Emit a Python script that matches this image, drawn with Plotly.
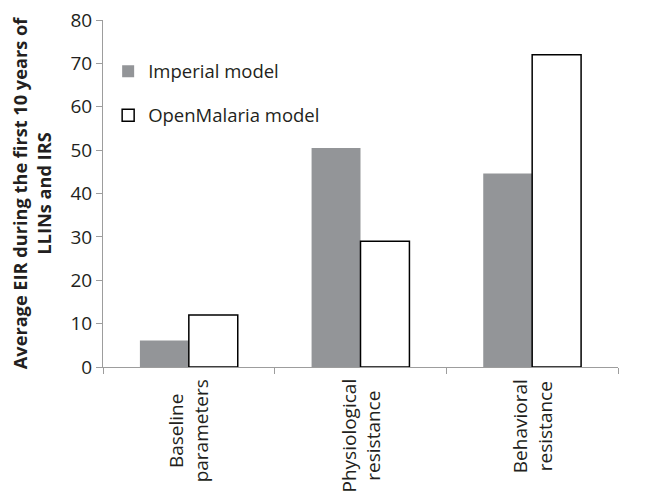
import plotly.graph_objects as go

categories = ["Baseline<br>parameters", "Physiological<br>resistance", "Behavioral<br>resistance"]
imperial = [6.1, 50.5, 44.6]
openmalaria = [12.0, 29.0, 72.0]
y_ticks = [0, 10, 20, 30, 40, 50, 60, 70, 80]

FONT = "Open Sans"
TXT = "#231f20"

fig = go.Figure()
fig.add_trace(go.Bar(
    x=categories, y=imperial, name="Imperial model",
    marker=dict(color="#939598", line=dict(width=0)),
    legendgroup="a",
))
fig.add_trace(go.Bar(
    x=categories, y=openmalaria, name="OpenMalaria model",
    marker=dict(color="white", line=dict(color="black", width=1.5)),
    legendgroup="b",
))

for c in categories:
    fig.add_annotation(
        x=c, xref="x", y=0, yref="paper", yanchor="top", xanchor="center",
        yshift=-10, text=c, textangle=-90, align="center", showarrow=False,
        font=dict(family=FONT, size=19, color=TXT),
    )

fig.update_layout(
    width=653, height=491,
    margin=dict(l=95, r=43, t=12, b=132),
    plot_bgcolor="white", paper_bgcolor="white",
    font=dict(family=FONT, size=18.5, color=TXT),
    barmode="group", bargap=0.43, bargroupgap=0,
    showlegend=True,
    legend=dict(x=0.01, y=0.906, xanchor="left", yanchor="top",
                bgcolor="rgba(0,0,0,0)", font=dict(size=18.5),
                tracegroupgap=17, traceorder="grouped", itemwidth=30),
)
fig.update_yaxes(
    range=[0, 80], tickvals=y_ticks, showgrid=False, zeroline=False,
    showline=True, linecolor="#9d9d9d", linewidth=1,
    ticks="outside", ticklen=6, tickcolor="#9d9d9d",
    tickfont=dict(size=19), automargin=False, ticklabeloverflow="allow",
    title=dict(text="<b>Average EIR during the first 10 years of<br>LLINs and IRS</b>",
               font=dict(size=18.2), standoff=19),
)
fig.update_xaxes(
    showline=True, linecolor="#9d9d9d", linewidth=1,
    ticks="outside", ticklen=6, tickcolor="#9d9d9d", tickson="boundaries",
    showticklabels=False, showgrid=False, automargin=False,
)

fig.write_html("out.html")
